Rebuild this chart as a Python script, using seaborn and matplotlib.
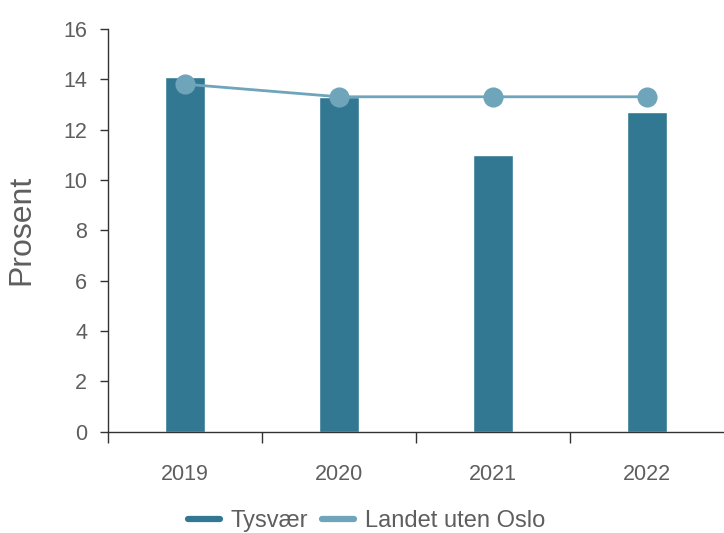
import seaborn as sns
import pandas as pd
import matplotlib.pyplot as plt
from matplotlib.lines import Line2D

# Verdier lest av figuren
aar = ["2019", "2020", "2021", "2022"]
tysvaer = [14.1, 13.3, 11.0, 12.7]
landet_uten_oslo = [13.8, 13.3, 13.3, 13.3]

bar_farge = "#337893"
linje_farge = "#6ea5ba"
tekst_farge = "#5e5e5e"

df = pd.DataFrame({"aar": aar, "Tysvær": tysvaer, "Landet uten Oslo": landet_uten_oslo})

sns.set_style("white")
plt.rcParams["font.family"] = ["Liberation Sans", "DejaVu Sans"]

fig, ax = plt.subplots(figsize=(7.24, 5.33), dpi=100)
plt.subplots_adjust(left=0.149, right=1.0, bottom=0.19, top=0.946)

sns.barplot(data=df, x="aar", y="Tysvær", color=bar_farge, width=0.26,
            saturation=1, ax=ax)
sns.pointplot(data=df, x="aar", y="Landet uten Oslo", color=linje_farge,
              markersize=13, linewidth=2, ax=ax)

ax.set_ylim(0, 16)
ax.set_xlim(-0.5, 3.5)
ax.set_yticks(range(0, 17, 2))
ax.set_xlabel("")
ax.set_ylabel("Prosent", fontsize=23, color=tekst_farge, labelpad=19)

# tick-streker mellom kategoriene
ax.set_xticks([-0.5, 0.5, 1.5, 2.5], minor=True)
ax.tick_params(axis="x", which="major", bottom=True, length=0, pad=23,
               labelsize=15.5, labelcolor=tekst_farge)
ax.tick_params(axis="x", which="minor", bottom=True, length=8, width=1,
               color="#333333")
ax.tick_params(axis="y", left=True, length=6, width=1, color="#333333",
               labelsize=15.5, labelcolor=tekst_farge, pad=9)

sns.despine(ax=ax)
for s in ["left", "bottom"]:
    ax.spines[s].set_color("#333333")
    ax.spines[s].set_linewidth(1)

handles = [Line2D([0], [0], color=bar_farge, lw=4.5),
           Line2D([0], [0], color=linje_farge, lw=4.5)]
fig.legend(handles, ["Tysvær", "Landet uten Oslo"], loc="center",
           bbox_to_anchor=(0.506, 0.022), ncol=2, frameon=False,
           fontsize=17, handlelength=1.35, columnspacing=0.6,
           handletextpad=0.45, labelcolor=tekst_farge)

plt.savefig("out.png", dpi=100)
